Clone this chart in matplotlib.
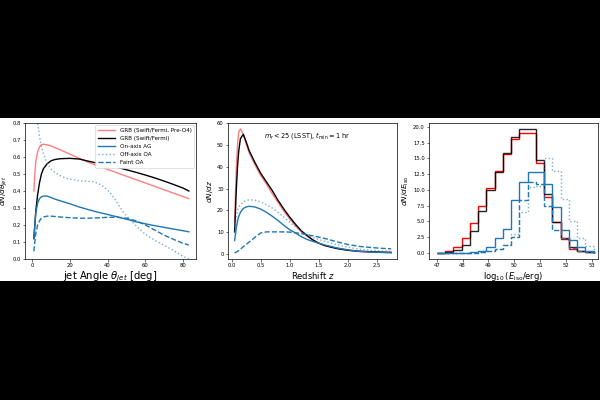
import matplotlib
matplotlib.use("Agg")
import matplotlib.pyplot as plt
from matplotlib.patches import Rectangle
import numpy as np

# --- panel 1: dN/dtheta_jet vs jet angle ---
theta = [1, 1.5, 2, 3, 4, 5, 6, 8, 10, 12, 15, 20, 25, 30, 35, 40, 45, 50, 55, 60, 65, 70, 75, 80, 83]
theta_pre_o4 = [0.40, 0.50, 0.57, 0.63, 0.66, 0.672, 0.675, 0.672, 0.665, 0.656, 0.642, 0.617, 0.592, 0.568, 0.547,
                0.527, 0.507, 0.487, 0.467, 0.447, 0.427, 0.407, 0.387, 0.367, 0.355]
theta_grb = [0.12, 0.20, 0.28, 0.38, 0.45, 0.50, 0.53, 0.56, 0.577, 0.585, 0.59, 0.592, 0.588, 0.575, 0.563,
             0.552, 0.54, 0.525, 0.51, 0.494, 0.477, 0.458, 0.438, 0.417, 0.40]
theta_onaxis = [0.12, 0.20, 0.27, 0.33, 0.355, 0.366, 0.37, 0.37, 0.362, 0.353, 0.342, 0.325, 0.306, 0.29, 0.275,
                0.262, 0.248, 0.234, 0.219, 0.207, 0.196, 0.186, 0.176, 0.166, 0.16]
theta_faint = [0.045, 0.10, 0.15, 0.20, 0.225, 0.24, 0.247, 0.252, 0.252, 0.25, 0.247, 0.243, 0.24, 0.24, 0.242,
               0.245, 0.246, 0.24, 0.225, 0.20, 0.17, 0.14, 0.115, 0.092, 0.082]
theta_oa = [2.5, 3, 4, 5, 6, 8, 10, 12, 15, 18, 20, 25, 28, 32, 35, 38, 40, 42, 44, 46, 48, 50, 53, 56, 60,
            65, 70, 75, 80, 83]
theta_offaxis = [0.84, 0.80, 0.72, 0.66, 0.62, 0.565, 0.53, 0.51, 0.49, 0.475, 0.47, 0.46, 0.458, 0.455, 0.445,
                 0.425, 0.405, 0.38, 0.35, 0.315, 0.28, 0.255, 0.22, 0.185, 0.145, 0.11, 0.08, 0.05, 0.015, 0.0]

# --- panel 2: dN/dz vs redshift ---
z = [0.05, 0.08, 0.1, 0.12, 0.15, 0.2, 0.25, 0.3, 0.4, 0.5, 0.6, 0.7, 0.8, 0.9, 1.0, 1.1, 1.2, 1.3, 1.4,
     1.5, 1.6, 1.8, 2.0, 2.2, 2.4, 2.6, 2.75]
z_pre_o4 = [15, 40, 50, 56, 57.5, 55, 50.5, 46.5, 41, 36, 32, 27.5, 23.5, 19.5, 16, 12.8, 10, 8, 6.2,
            4.8, 3.8, 2.5, 1.7, 1.2, 0.9, 0.7, 0.6]
z_grb = [10, 30, 40, 47, 53, 55, 51.5, 47.5, 42, 37, 33, 29, 24.5, 20.5, 16.8, 13.5, 10.5, 8.3, 6.3,
         4.8, 3.7, 2.4, 1.5, 1.0, 0.8, 0.6, 0.5]
z_onaxis = [6, 12, 15, 17, 19, 20.8, 21.5, 21.8, 21.5, 20.5, 19, 17.2, 15.2, 13, 11, 9.5, 7.8, 6.5, 5.6,
            4.8, 4.0, 2.7, 1.7, 1.0, 0.7, 0.5, 0.4]
z_offaxis = [10, 17, 20, 21.5, 22.5, 23.8, 24.5, 24.8, 24.6, 23.8, 22.5, 21, 19, 16.8, 14.5, 12.3, 10.5, 8.8, 7.5,
             6.5, 5.7, 4.2, 3.0, 2.0, 1.5, 1.2, 1.0]
z_faint = [0.3, 0.7, 1.0, 1.4, 2.0, 3.2, 4.2, 5.3, 7.5, 9.5, 10, 10, 10, 10, 9.9, 9.6, 9.2, 8.7, 8.2,
           7.6, 7.0, 5.5, 4.2, 3.3, 2.8, 2.4, 2.2]

# --- panel 3: dN/dE_iso histograms ---
e_edges = [47.0, 47.32, 47.64, 47.96, 48.28, 48.6, 48.92, 49.24, 49.56, 49.88, 50.2, 50.52, 50.84, 51.16,
           51.48, 51.8, 52.12, 52.44, 52.76, 53.08]
e_pre_o4 = [0.05, 0.3, 1.0, 2.3, 4.7, 7.5, 10.3, 13.0, 15.7, 18.0, 19.0, 19.0, 14.2, 8.8, 4.9, 2.2, 0.6, 0.3, 0.15]
e_grb = [0.05, 0.15, 0.4, 1.3, 3.4, 6.6, 9.9, 12.9, 15.9, 18.3, 19.6, 19.6, 14.7, 9.3, 4.9, 2.4, 0.9, 0.3, 0.15]
e_onaxis = [0.02, 0.02, 0.02, 0.05, 0.1, 0.3, 0.9, 2.3, 3.8, 8.4, 11.2, 12.8, 12.8, 10.9, 7.2, 3.6, 2.0, 1.0, 0.3]
e_offaxis = [0.0, 0.0, 0.0, 0.0, 0.05, 0.15, 0.3, 0.6, 1.2, 3.0, 6.5, 10.5, 10.6, 15.1, 13.0, 8.5, 5.0, 2.3, 1.1]
e_faint = [0.0, 0.0, 0.0, 0.0, 0.05, 0.15, 0.3, 0.6, 1.3, 2.5, 8.4, 11.3, 11.0, 7.5, 3.7, 2.4, 0.8, 0.3, 0.1]

labels = ["GRB (Swift/Fermi, Pre-O4)", "GRB (Swift/Fermi)", "On-axis AG", "Off-axis OA", "Faint OA"]
styles = [
    dict(color="red", alpha=0.5, ls="-"),
    dict(color="black", ls="-"),
    dict(color="C0", ls="-"),
    dict(color="C0", alpha=0.6, ls=":"),
    dict(color="C0", ls="--"),
]

TICK_FS = 3.8
LW = 1.0

fig = plt.figure(figsize=(6, 4), dpi=100, facecolor="black")
fig.patches.append(Rectangle((0, 1 - 281 / 400), 1, 163 / 400, transform=fig.transFigure,
                             facecolor="white", edgecolor="none", zorder=-10))

bottom, height = 1 - 259 / 400, 136 / 400
ax1 = fig.add_axes([25 / 600, bottom, 171 / 600, height])
ax2 = fig.add_axes([228 / 600, bottom, 169 / 600, height])
ax3 = fig.add_axes([429 / 600, bottom, 169 / 600, height])

for ax in (ax1, ax2, ax3):
    ax.tick_params(labelsize=TICK_FS, length=1.8, width=0.4, pad=1.2)
    for sp in ax.spines.values():
        sp.set_linewidth(0.5)

# panel 1
ax1.plot(theta, theta_pre_o4, lw=LW, label=labels[0], **styles[0])
ax1.plot(theta, theta_grb, lw=LW, label=labels[1], **styles[1])
ax1.plot(theta, theta_onaxis, lw=LW, label=labels[2], **styles[2])
ax1.plot(theta_oa, theta_offaxis, lw=LW, label=labels[3], **styles[3])
ax1.plot(theta, theta_faint, lw=LW, label=labels[4], **styles[4])
ax1.set_xlim(-3.7, 86.8)
ax1.set_ylim(0, 0.8)
ax1.set_xticks([0, 20, 40, 60, 80])
ax1.set_xlabel(r"jet Angle $\theta_{jet}$ [deg]", fontsize=7.2, labelpad=1)
ax1.set_ylabel(r"$dN/d\theta_{jet}$", fontsize=5.2, labelpad=1.5)
ax1.legend(loc="upper right", fontsize=4.1, handlelength=3, borderpad=0.5, labelspacing=0.55,
           borderaxespad=0.3, framealpha=1, edgecolor="#cccccc").get_frame().set_linewidth(0.4)

# panel 2
for vals, lab, st in zip([z_pre_o4, z_grb, z_onaxis, z_offaxis, z_faint], labels, styles):
    ax2.plot(z, vals, lw=LW, label=lab, **st)
ax2.set_xlim(-0.064, 2.85)
ax2.set_ylim(-2.5, 60.2)
ax2.set_xticks([0.0, 0.5, 1.0, 1.5, 2.0, 2.5])
ax2.set_yticks([0, 10, 20, 30, 40, 50, 60])
ax2.set_xlabel(r"Redshift $z$", fontsize=6, labelpad=1)
ax2.set_ylabel(r"$dN/dz$", fontsize=5.2, labelpad=1.5)
ax2.text(0.47, 0.91, r"$m_r < 25$ (LSST), $t_{\rm min} = 1$ hr", transform=ax2.transAxes,
         ha="center", va="center", fontsize=4.7)

# panel 3
hist_styles = [
    dict(color="red"),
    dict(color="black", alpha=0.85),
    dict(color="C0", ls="-"),
    dict(color="C0", alpha=0.6, ls=":"),
    dict(color="C0", ls="--"),
]
for vals, lab, st in zip([e_pre_o4, e_grb, e_onaxis, e_offaxis, e_faint], labels, hist_styles):
    ax3.stairs(vals, e_edges, lw=LW, label=lab, **st)
ax3.set_xlim(46.7, 53.25)
ax3.set_ylim(-0.98, 20.6)
ax3.set_xticks(np.arange(47, 54))
ax3.set_yticks([0, 2.5, 5, 7.5, 10, 12.5, 15, 17.5, 20])
ax3.yaxis.set_major_formatter(matplotlib.ticker.FormatStrFormatter("%.1f"))
ax3.set_xlabel(r"$\log_{10}(E_{\rm iso}/{\rm erg})$", fontsize=6, labelpad=1)
ax3.set_ylabel(r"$dN/dE_{\rm iso}$", fontsize=5.2, labelpad=1.5)

fig.savefig("out.png", dpi=100, facecolor=fig.get_facecolor())
